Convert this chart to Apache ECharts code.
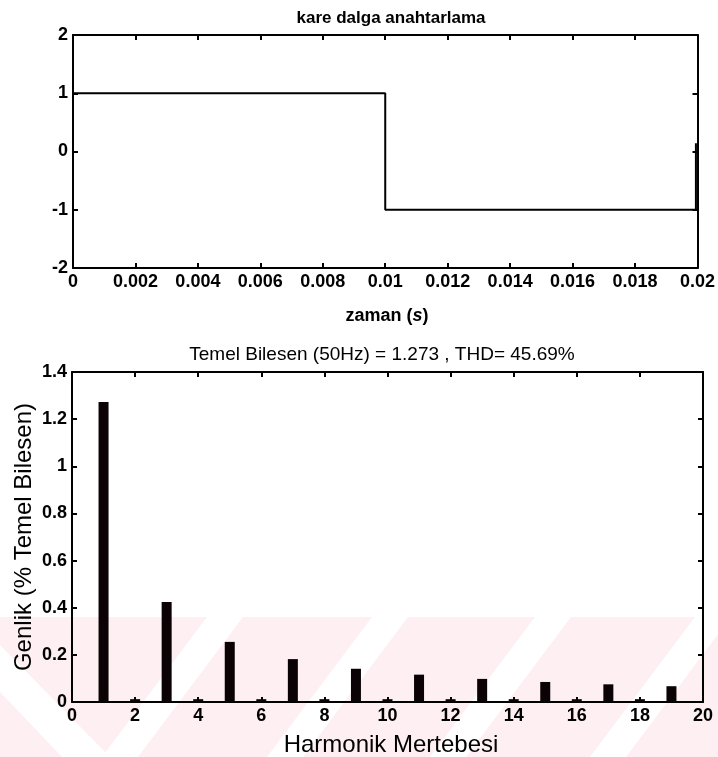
<!DOCTYPE html>
<html>
<head>
<meta charset="utf-8">
<script src="https://cdn.jsdelivr.net/npm/echarts@6/dist/echarts.min.js"></script>
<style>
html,body{margin:0;padding:0;background:#fff;}
#c{width:718px;height:757px;}
</style>
</head>
<body>
<div id="c"></div>
<script>
// ---- top plot: square wave switching ----
var timeS = [0, 0.01, 0.01, 0.01995, 0.01995];
var volts = [1, 1, -1, -1, 0.14];
var topTitle = 'kare dalga anahtarlama';

// ---- bottom plot: harmonic spectrum ----
var harmonicOrder = [1, 2, 3, 4, 5, 6, 7, 8, 9, 10, 11, 12, 13, 14, 15, 16, 17, 18, 19];
var amplitude = [1.273, 0.012, 0.424, 0.012, 0.255, 0.012, 0.182, 0.012, 0.141, 0.012,
                 0.116, 0.012, 0.098, 0.012, 0.085, 0.012, 0.075, 0.012, 0.067];
var bottomTitle = 'Temel Bilesen (50Hz) = 1.273 , THD= 45.69%';
var bottomXName = 'Harmonik Mertebesi';
var bottomYName = 'Genlik (% Temel Bilesen)';

var FONT = 'Liberation Sans, Arial, sans-serif';
var lineSeries = timeS.map(function (t, i) { return [t, volts[i]]; });
var barSeries = harmonicOrder.map(function (h, i) { return [h, amplitude[i]]; });

function mainAxis(grid, pos, min, max, interval, extra) {
  var a = {
    type: 'value', gridIndex: grid, position: pos, min: min, max: max, interval: interval,
    axisLine: { show: true, onZero: false, lineStyle: { color: '#000', width: 2 } },
    axisTick: { show: true, inside: true, length: 5, lineStyle: { color: '#000', width: 2 } },
    splitLine: { show: false },
    axisLabel: { show: true, color: '#000', fontFamily: FONT, fontSize: 18, fontWeight: 'bold', margin: 5 }
  };
  if (extra) { for (var k in extra) a[k] = extra[k]; }
  return a;
}
function boxAxis(grid, pos, min, max, interval) {
  return {
    type: 'value', gridIndex: grid, position: pos, min: min, max: max, interval: interval,
    axisLine: { show: true, onZero: false, lineStyle: { color: '#000', width: 2 } },
    axisTick: { show: true, inside: true, length: 5, lineStyle: { color: '#000', width: 2 } },
    splitLine: { show: false },
    axisLabel: { show: false }
  };
}

// watermark band (decoration behind the chart)
var wmTop = 617, wmBot = 757, dx = 105, sw = 36;
var stripeStarts = [207, 372, 535, 695];
var wm = [{
  type: 'rect', z: -100, silent: true,
  shape: { x: 0, y: wmTop, width: 718, height: wmBot - wmTop },
  style: { fill: '#fdeff2' }
}, {
  type: 'polygon', z: -99, silent: true,
  shape: { points: [[0, 645], [0, 692], [62, wmBot], [110, wmBot]] },
  style: { fill: '#ffffff' }
}];
stripeStarts.forEach(function (a) {
  wm.push({
    type: 'polygon', z: -99, silent: true,
    shape: { points: [[a, wmTop], [a + sw, wmTop], [a + sw - dx, wmBot], [a - dx, wmBot]] },
    style: { fill: '#ffffff' }
  });
});

var chart = echarts.init(document.getElementById('c'), null, { renderer: 'canvas' });
chart.setOption({
  animation: false,
  backgroundColor: '#ffffff',
  graphic: wm,
  title: [
    { text: topTitle, left: 386, top: 5, textAlign: 'center',
      textStyle: { fontFamily: FONT, fontSize: 17, fontWeight: 'bold', color: '#000' } },
    { text: bottomTitle, left: 377, top: 340, textAlign: 'center',
      textStyle: { fontFamily: FONT, fontSize: 19, fontWeight: 'normal', color: '#000' } },
    { text: '{a|zaman (}{b|s}{a|)}', left: 382, top: 302, textAlign: 'center',
      textStyle: { rich: {
        a: { fontFamily: FONT, fontSize: 18, fontWeight: 'bold', color: '#000' },
        b: { fontFamily: FONT, fontSize: 18, fontWeight: 'bold', fontStyle: 'italic', color: '#000' } } } },
    { text: bottomXName, left: 386, top: 728, textAlign: 'center',
      textStyle: { fontFamily: FONT, fontSize: 24, fontWeight: 'normal', color: '#000' } }
  ],
  grid: [
    { left: 73, right: 16, top: 35, height: 233 },
    { left: 72, right: 15, top: 372, height: 330 }
  ],
  xAxis: [
    mainAxis(0, 'bottom', 0, 0.02, 0.002),
    boxAxis(0, 'top', 0, 0.02, 0.002),
    mainAxis(1, 'bottom', 0, 20, 2),
    boxAxis(1, 'top', 0, 20, 2)
  ],
  yAxis: [
    mainAxis(0, 'left', -2, 2, 1, {}),
    boxAxis(0, 'right', -2, 2, 1),
    mainAxis(1, 'left', 0, 1.4, 0.2, {
      name: bottomYName, nameLocation: 'middle', nameGap: 36, nameRotate: 90,
      nameMoveOverlap: false,
      nameTextStyle: { fontFamily: FONT, fontSize: 24, color: '#000' }
    }),
    boxAxis(1, 'right', 0, 1.4, 0.2)
  ],
  series: [
    { type: 'line', xAxisIndex: 0, yAxisIndex: 0, data: lineSeries, symbol: 'none',
      lineStyle: { color: '#000', width: 2 }, z: 3 },
    { type: 'bar', xAxisIndex: 2, yAxisIndex: 2, data: barSeries, barWidth: 10,
      itemStyle: { color: '#0a0204' }, z: 3 }
  ]
});
</script>
</body>
</html>
